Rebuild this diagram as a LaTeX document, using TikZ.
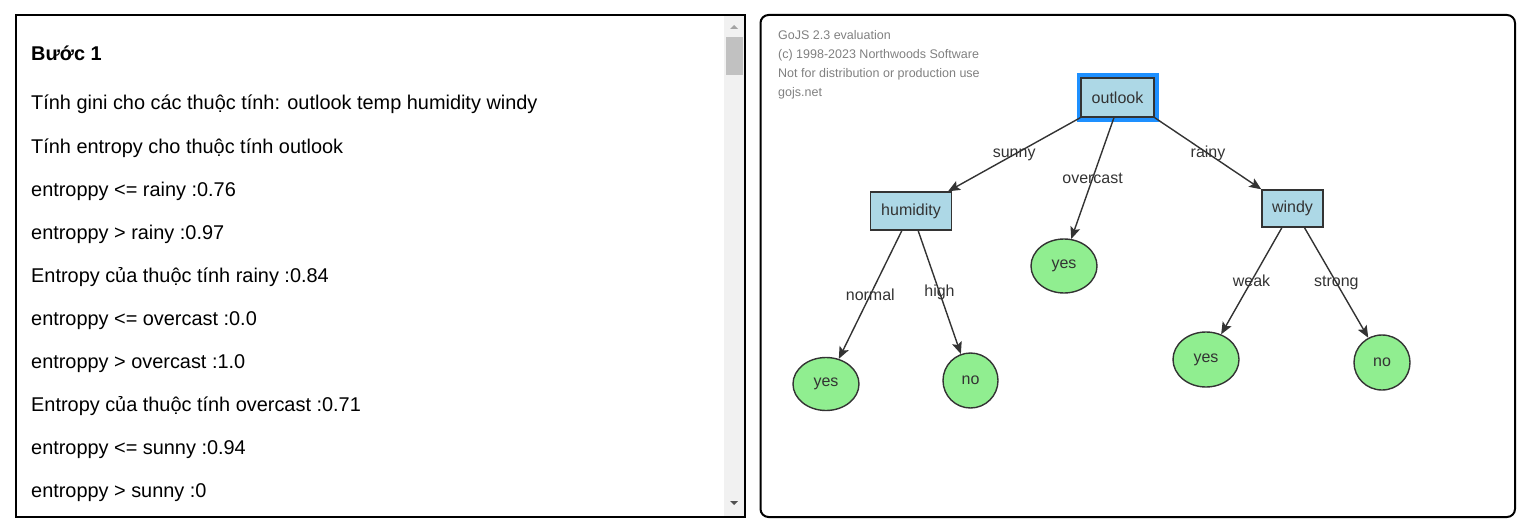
\documentclass[tikz,border=0pt]{standalone}
\usepackage{fontspec}
\setmainfont{Liberation Sans}
\usetikzlibrary{shapes}
\usetikzlibrary{positioning}
\usetikzlibrary{arrows.meta}
\definecolor{nodeblue}{HTML}{ADD8E6}
\definecolor{leafgreen}{HTML}{90EE90}
\definecolor{selblue}{HTML}{1E90FF}
\definecolor{linkgray}{HTML}{333333}
\definecolor{markgray}{HTML}{808080}
\definecolor{barbg}{HTML}{F1F1F1}
\definecolor{barthumb}{HTML}{C1C1C1}
\definecolor{bararrow}{HTML}{A3A3A3}
\definecolor{bararrowd}{HTML}{505050}
\tikzset{
    frame/.style = {draw=black, line width=2pt},
    txt/.style = {anchor=base west, inner sep=0pt, font=\fontsize{19.9}{24}\selectfont},
    wmark/.style = {anchor=base west, inner sep=0pt, text=markgray, font=\fontsize{12.5}{15}\selectfont},
    attr/.style = {rectangle, draw=linkgray, line width=1.4pt, fill=nodeblue, inner sep=0pt, text=linkgray, font=\fontsize{16}{19}\selectfont},
    attrsel/.style = {attr, preaction={draw=selblue, line width=9pt}},
    leaf/.style = {ellipse, draw=linkgray, line width=1.4pt, fill=leafgreen, inner sep=0pt, text=linkgray, font=\fontsize{16}{19}\selectfont},
    edgen/.style = {-{Stealth[length=12pt,width=10pt,inset=2.5pt]}, line width=1.4pt, draw=linkgray},
    elabel/.style = {inner sep=0pt, text=linkgray, font=\fontsize{16}{19}\selectfont}
}

\begin{document}
\begin{tikzpicture}[x=1pt, y=-1pt]
\useasboundingbox (0,0) rectangle (1531,527);
% left panel
\fill[barbg] (724,16) rectangle (744,516);
\fill[barthumb] (726,37) rectangle (743,75);
\fill[bararrow] (730,29) -- (738,29) -- (734,25) -- cycle;
\fill[bararrowd] (730,501) -- (738,501) -- (734,505) -- cycle;
\draw[frame] (16,15) rectangle (745,517);
\node[txt, font=\fontsize{19.9}{24}\selectfont\bfseries] at (31,60) (step) {Bước 1};
\node[txt] at (31,110) (l1) {Tính gini cho các thuộc tính: outlook temp humidity windy};
\node[txt] at (31,153) (l2) {Tính entropy cho thuộc tính outlook};
\node[txt] at (31,196) (l3) {entroppy <= rainy :0.76};
\node[txt] at (31,239) (l4) {entroppy > rainy :0.97};
\node[txt] at (31,282) (l5) {Entropy của thuộc tính rainy :0.84};
\node[txt] at (31,325) (l6) {entroppy <= overcast :0.0};
\node[txt] at (31,368) (l7) {entroppy > overcast :1.0};
\node[txt] at (31,411) (l8) {Entropy của thuộc tính overcast :0.71};
\node[txt] at (31,454) (l9) {entroppy <= sunny :0.94};
\node[txt] at (31,497) (l10) {entroppy > sunny :0};
% right panel
\draw[frame, rounded corners=8pt] (760.5,15) rectangle (1515,517);
\node[wmark] at (778,39.5) (w1) {GoJS 2.3 evaluation};
\node[wmark] at (778,58.5) (w2) {(c) 1998-2023 Northwoods Software};
\node[wmark] at (778,77.5) (w3) {Not for distribution or production use};
\node[wmark] at (778,96.5) (w4) {gojs.net};
%
\node[attrsel, minimum width=73pt, minimum height=39pt] at (1117.5,97.5) (outlook) {outlook};
\node[attr, minimum width=81pt, minimum height=38pt] at (911,211) (humidity) {humidity};
\node[attr, minimum width=61pt, minimum height=37pt] at (1292.5,208.5) (windy) {windy};
\node[leaf, minimum width=66pt, minimum height=54pt] at (1064,266) (yes0) {yes};
\node[leaf, minimum width=66pt, minimum height=53pt] at (826,384) (yes1) {yes};
\node[leaf, minimum width=55pt, minimum height=55pt] at (970.5,380.5) (no1) {no};
\node[leaf, minimum width=66pt, minimum height=55pt] at (1206,359.5) (yes2) {yes};
\node[leaf, minimum width=56pt, minimum height=55pt] at (1382,362.5) (no2) {no};
%
\path (outlook.south west) edge[edgen] node[elabel] {sunny} (humidity.28);
\path (outlook.-100) edge[edgen] node[elabel] {overcast} (yes0.75);
\path (outlook.south east) edge[edgen] node[elabel] {rainy} (windy.north west);
\path (humidity.-115) edge[edgen] node[elabel] {normal} (yes1.63);
\path (humidity.-70) edge[edgen] node[elabel] {high} (no1.110);
\path (windy.-119) edge[edgen] node[elabel] {weak} (yes2.59);
\path (windy.-58) edge[edgen] node[elabel] {strong} (no2.119);
\end{tikzpicture}
\end{document}
